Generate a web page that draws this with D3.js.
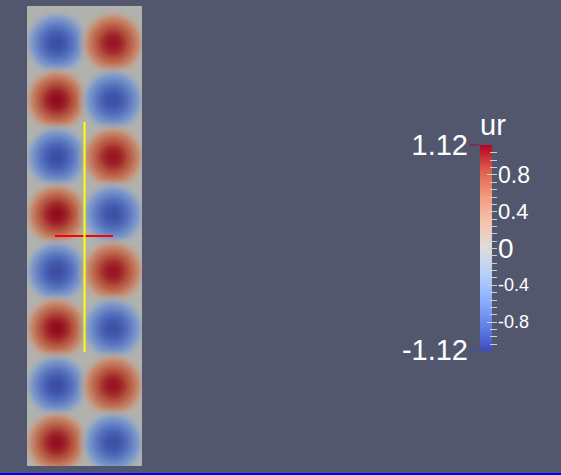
<!DOCTYPE html>
<html><head><meta charset="utf-8">
<script src="https://cdn.jsdelivr.net/npm/d3@7"></script>
<style>html,body{margin:0;padding:0;background:#52576e;overflow:hidden}</style>
</head><body>
<script>
// ---- data ----
const fieldName = "ur";
const rangeMin = -1.12, rangeMax = 1.12;
const rowIndex = [0,1,2,3,4,5,6,7];
const colIndex = [0,1];
// peak value of each lobe, row by row: [left, right]
const peakValues = [
  [-1.02,  1.06],
  [ 1.10, -1.00],
  [-1.02,  1.06],
  [ 1.10, -1.00],
  [-1.02,  1.06],
  [ 1.10, -1.00],
  [-1.02,  1.06],
  [ 1.08, -1.00]
];
const tickLabels = [0.8, 0.4, 0, -0.4, -0.8];
const tickLabelTexts = ["0.8", "0.4", "0", "-0.4", "-0.8"];
const tickLabelSizes = [23, 22, 28, 18, 18];
const minorTickStep = 0.08;
const coolWarmStops = [[59,76,192],[98,130,234],[141,176,254],[184,208,249],[221,221,221],[245,196,173],[244,154,123],[222,96,77],[180,4,38]];

// ---- setup ----
const W = 561, H = 475;
const svg = d3.select("body").append("svg").attr("width", W).attr("height", H);
svg.append("rect").attr("width", W).attr("height", H).attr("fill", "#52576e");

const stopDomain = coolWarmStops.map((d,i)=> rangeMin + (rangeMax-rangeMin)*i/(coolWarmStops.length-1));
const color = d3.scaleLinear().domain(stopDomain).range(coolWarmStops.map(c=>d3.rgb(c[0],c[1],c[2]).toString())).interpolate(d3.interpolateRgb).clamp(true);
const shade = 0.8;
const fieldColor = v => { const c = d3.rgb(color(v)); return d3.rgb(c.r*shade, c.g*shade+1, c.b*shade-3).toString(); };

// field geometry
const field = {x0: 27, x1: 142, y0: 6, y1: 466};
const xs = d3.scaleLinear().domain([0,1]).range([56.7, 113]);
const ys = d3.scaleLinear().domain([0,7]).range([43, 442.7]);
const blobR = 36;

const defs = svg.append("defs");
defs.append("clipPath").attr("id","fclip").append("rect")
  .attr("x", field.x0).attr("y", field.y0).attr("width", field.x1-field.x0).attr("height", field.y1-field.y0);

const g = svg.append("g").attr("clip-path","url(#fclip)");
g.append("rect").attr("x", field.x0).attr("y", field.y0).attr("width", field.x1-field.x0).attr("height", field.y1-field.y0)
  .attr("fill", fieldColor(0));

const cells = [];
rowIndex.forEach(r => colIndex.forEach(c => cells.push({r, c, v: peakValues[r][c]})));
const nStops = 20;
cells.forEach((d,i) => {
  const grad = defs.append("radialGradient").attr("id","blob"+i)
    .attr("gradientUnits","userSpaceOnUse")
    .attr("cx", xs(d.c)).attr("cy", ys(d.r)).attr("r", blobR);
  d3.range(nStops+1).forEach(k => {
    const t = k/nStops;
    const prof = Math.pow(Math.cos(Math.PI*t/2), 1.1);
    grad.append("stop").attr("offset", t)
      .attr("stop-color", fieldColor(d.v*prof))
      .attr("stop-opacity", t < 0.7 ? 1 : Math.max(0, (1-t)/0.3));
  });
});
g.selectAll("circle.blob").data(cells).join("circle").attr("class","blob")
  .attr("cx", d=>xs(d.c)).attr("cy", d=>ys(d.r)).attr("r", blobR)
  .attr("fill", (d,i)=>`url(#blob${i})`);

// probe lines
svg.append("line").attr("x1",55).attr("x2",113).attr("y1",236).attr("y2",236).attr("stroke","#ff0000").attr("stroke-width",2);
svg.append("line").attr("x1",84.5).attr("x2",84.5).attr("y1",122).attr("y2",352).attr("stroke","#ffff00").attr("stroke-width",2);

// ---- color legend ----
const bar = {x: 480, w: 12, y0: 145, y1: 351};
const ly = d3.scaleLinear().domain([rangeMin, rangeMax]).range([bar.y1, bar.y0]);
const lg = defs.append("linearGradient").attr("id","barGrad").attr("x1",0).attr("x2",0).attr("y1",1).attr("y2",0);
stopDomain.forEach((v,i)=> lg.append("stop").attr("offset", i/(stopDomain.length-1)).attr("stop-color", color(v)));
svg.append("rect").attr("x", bar.x).attr("y", bar.y0).attr("width", bar.w).attr("height", bar.y1-bar.y0).attr("fill","url(#barGrad)");

// range markers
svg.append("line").attr("x1",470).attr("x2",479).attr("y1",ly(rangeMax)).attr("y2",ly(rangeMax)).attr("stroke","#a3102c").attr("stroke-width",1);
svg.append("line").attr("x1",470).attr("x2",479).attr("y1",ly(rangeMin)).attr("y2",ly(rangeMin)).attr("stroke","#3b4cc0").attr("stroke-width",1);

// ticks
const minorTicks = d3.range(-13, 14).map(k => +(k*minorTickStep).toFixed(2));
svg.selectAll("line.tick").data(minorTicks).join("line").attr("class","tick")
  .attr("x1", d => tickLabels.includes(d) ? 487 : 490).attr("x2", 497)
  .attr("y1", d=>Math.round(ly(d))+0.5).attr("y2", d=>Math.round(ly(d))+0.5)
  .attr("stroke","#d0d0d0").attr("stroke-width",1);

const font = "'Liberation Sans', Arial, sans-serif";
svg.selectAll("text.tl").data(tickLabels).join("text").attr("class","tl")
  .attr("x", 498).attr("y", d=>ly(d)).attr("dy","0.36em")
  .attr("font-family", font).attr("font-size", (d,i)=>tickLabelSizes[i]+"px")
  .attr("fill","#ffffff").text((d,i)=>tickLabelTexts[i]);

svg.append("text").attr("x", 468).attr("y", 155).attr("text-anchor","end")
  .attr("font-family", font).attr("font-size","29px").attr("fill","#ffffff").text(rangeMax.toFixed(2));
svg.append("text").attr("x", 468).attr("y", 360).attr("text-anchor","end")
  .attr("font-family", font).attr("font-size","29px").attr("fill","#ffffff").text(rangeMin.toFixed(2));
svg.append("text").attr("x", 480).attr("y", 135)
  .attr("font-family", font).attr("font-size","29px").attr("fill","#ffffff").text(fieldName);

// active view border
svg.append("rect").attr("x",0).attr("y",473).attr("width",W).attr("height",2).attr("fill","#0000ff");
</script>
</body></html>
